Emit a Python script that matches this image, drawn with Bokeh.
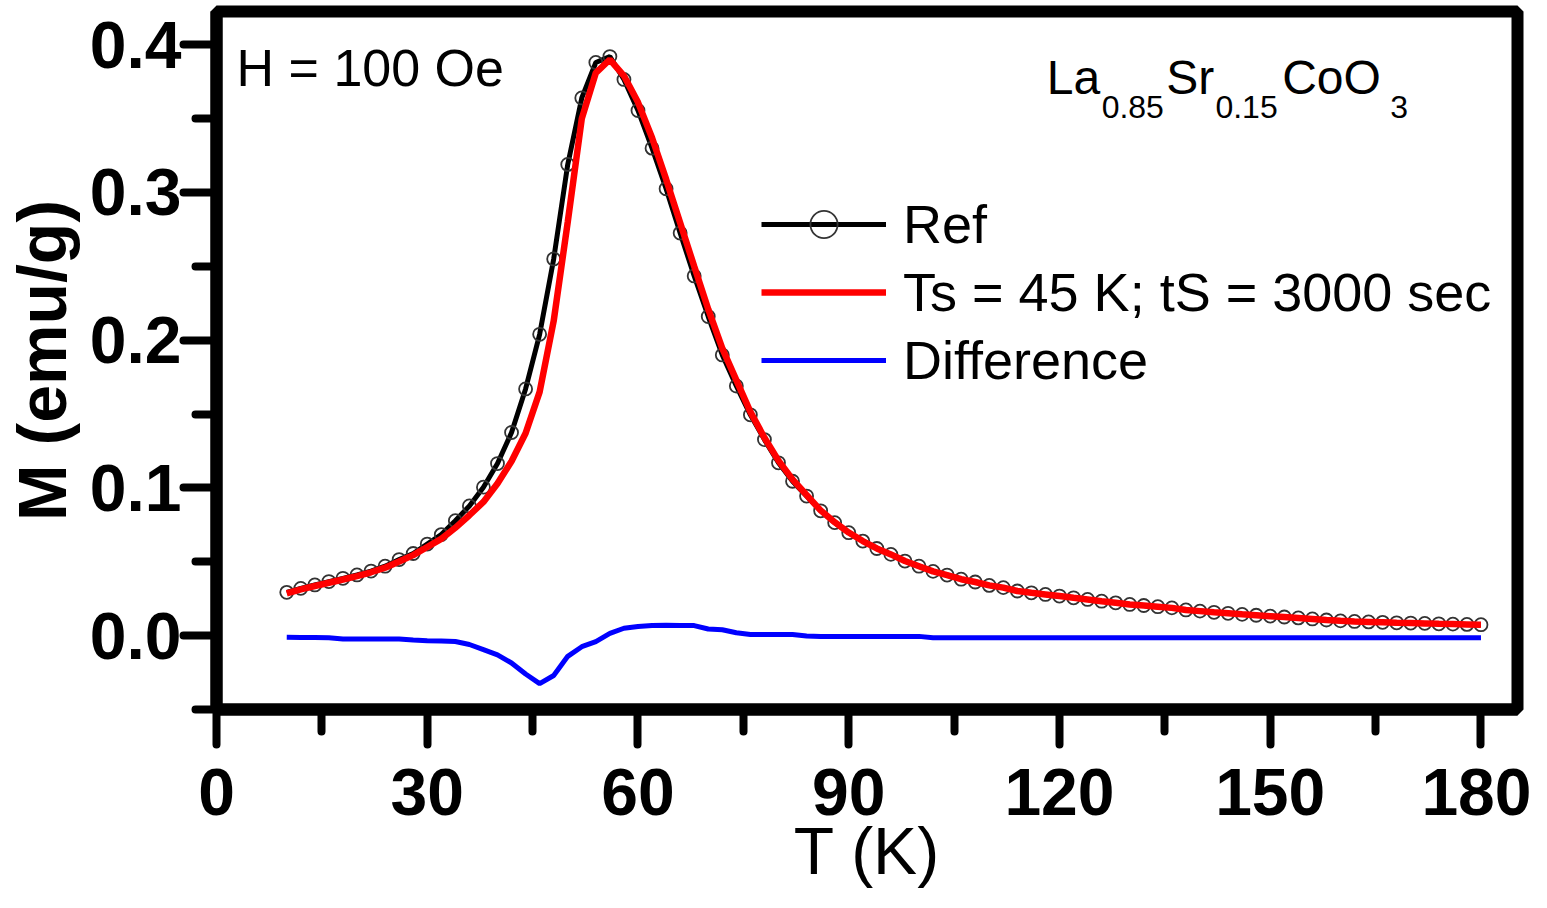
from bokeh.plotting import figure
from bokeh.models import Range1d, Legend, LegendItem, Label, FixedTicker, NumeralTickFormatter
from bokeh.embed import file_html
from bokeh.resources import INLINE

# ---------------- data ----------------
T = [10, 12, 14, 16, 18, 20, 22, 24, 26, 28, 30, 32, 34, 36, 38, 40, 42, 44, 46, 48,
     50, 52, 54, 56, 58, 60, 62, 64, 66, 68, 70, 72, 74, 76, 78, 80, 82, 84, 86, 88,
     90, 92, 94, 96, 98, 100, 102, 104, 106, 108, 110, 112, 114, 116, 118, 120, 122, 124, 126, 128,
     130, 132, 134, 136, 138, 140, 142, 144, 146, 148, 150, 152, 154, 156, 158, 160, 162, 164, 166, 168,
     170, 172, 174, 176, 178, 180]

M_ref = [0.0293, 0.0320, 0.0343, 0.0366, 0.0388, 0.0411, 0.0437, 0.0470, 0.0515, 0.0556,
         0.0620, 0.0684, 0.0778, 0.0878, 0.1005, 0.1165, 0.1375, 0.1670, 0.2040, 0.2550,
         0.3190, 0.3640, 0.3880, 0.3920, 0.3765, 0.3555, 0.3300, 0.3025, 0.2725, 0.2435,
         0.2160, 0.1900, 0.1690, 0.1495, 0.1327, 0.1170, 0.1045, 0.0945, 0.0845, 0.0765,
         0.0697, 0.0640, 0.0590, 0.0550, 0.0505, 0.0470, 0.0435, 0.0410, 0.0382, 0.0363,
         0.0340, 0.0325, 0.0302, 0.0290, 0.0279, 0.0268, 0.0256, 0.0245, 0.0233, 0.0222,
         0.0211, 0.0204, 0.0196, 0.0188, 0.0174, 0.0166, 0.0158, 0.0151, 0.0144, 0.0138,
         0.0132, 0.0126, 0.0120, 0.0113, 0.0106, 0.0100, 0.0096, 0.0093, 0.0090, 0.0087,
         0.0085, 0.0083, 0.0080, 0.0078, 0.0076, 0.0074]

M_fit = [0.0286, 0.0313, 0.0336, 0.0358, 0.0380, 0.0403, 0.0429, 0.0460, 0.0502, 0.0545,
         0.0600, 0.0655, 0.0730, 0.0815, 0.0905, 0.1030, 0.1180, 0.1370, 0.1650, 0.2130,
         0.2800, 0.3500, 0.3810, 0.3900, 0.3790, 0.3610, 0.3370, 0.3090, 0.2795, 0.2500,
         0.2210, 0.1945, 0.1730, 0.1515, 0.1340, 0.1185, 0.1058, 0.0952, 0.0848, 0.0768,
         0.0698, 0.0640, 0.0590, 0.0550, 0.0505, 0.0470, 0.0435, 0.0410, 0.0382, 0.0363,
         0.0340, 0.0325, 0.0302, 0.0290, 0.0279, 0.0268, 0.0256, 0.0245, 0.0233, 0.0222,
         0.0211, 0.0204, 0.0196, 0.0188, 0.0174, 0.0166, 0.0158, 0.0151, 0.0144, 0.0138,
         0.0132, 0.0126, 0.0120, 0.0113, 0.0106, 0.0100, 0.0096, 0.0093, 0.0090, 0.0087,
         0.0085, 0.0083, 0.0080, 0.0078, 0.0076, 0.0074]

M_diff = [-0.0011, -0.0012, -0.0013, -0.0015, -0.0022, -0.0023, -0.0023, -0.0023, -0.0023, -0.0030,
          -0.0034, -0.0036, -0.0040, -0.0060, -0.0095, -0.0130, -0.0185, -0.0260, -0.0325, -0.0270,
          -0.0140, -0.0075, -0.0040, 0.0015, 0.0050, 0.0062, 0.0068, 0.0070, 0.0068, 0.0068,
          0.0045, 0.0040, 0.0020, 0.0008, 0.0007, 0.0007, 0.0007, -0.0003, -0.0005, -0.0005,
          -0.0005, -0.0005, -0.0005, -0.0005, -0.0005, -0.0005, -0.0015, -0.0015, -0.0015, -0.0015,
          -0.0015, -0.0015, -0.0015, -0.0015, -0.0015, -0.0015, -0.0015, -0.0015, -0.0015, -0.0015,
          -0.0015, -0.0015, -0.0015, -0.0015, -0.0015, -0.0015, -0.0015, -0.0015, -0.0015, -0.0015,
          -0.0015, -0.0015, -0.0015, -0.0015, -0.0015, -0.0015, -0.0015, -0.0015, -0.0015, -0.0015,
          -0.0015, -0.0015, -0.0015, -0.0015, -0.0015, -0.0015]

x_major = [0, 30, 60, 90, 120, 150, 180]
x_minor = [15, 45, 75, 105, 135, 165]
y_major = [0.0, 0.1, 0.2, 0.3, 0.4]
y_minor = [-0.05, 0.05, 0.15, 0.25, 0.35]

legend_labels = ["Ref", "Ts = 45 K; tS = 3000 sec", "Difference"]
x_title = "T (K)"
y_title = "M (emu/g)"
field_text = "H = 100 Oe"

FONT = "Liberation Sans"

p = figure(width=1531, height=892,
           x_range=Range1d(0, 185.2), y_range=Range1d(-0.05, 0.4225),
           output_backend="svg", toolbar_location=None,
           min_border_left=215, min_border_right=14,
           min_border_top=11, min_border_bottom=183)

p.grid.visible = False
p.background_fill_color = "white"
p.border_fill_color = "white"
p.outline_line_color = "black"
p.outline_line_width = 12

p.xaxis.ticker = FixedTicker(ticks=x_major, minor_ticks=x_minor)
p.yaxis.ticker = FixedTicker(ticks=y_major, minor_ticks=y_minor)
p.yaxis.formatter = NumeralTickFormatter(format="0.0")

for ax in (p.xaxis[0], p.yaxis[0]):
    ax.axis_line_width = 12
    ax.axis_line_color = "black"
    ax.major_tick_line_width = 8
    ax.minor_tick_line_width = 8
    ax.major_tick_line_cap = "round"
    ax.minor_tick_line_cap = "round"
    ax.major_tick_in = 0
    ax.minor_tick_in = 0
    ax.major_label_text_font = FONT
    ax.major_label_text_font_style = "bold"
    ax.major_label_text_font_size = "66px"
    ax.major_label_text_color = "black"
    ax.axis_label_text_font = FONT
    ax.axis_label_text_color = "black"

p.xaxis.major_tick_out = 35
p.xaxis.minor_tick_out = 22
p.xaxis.major_label_standoff = 24
p.xaxis.axis_label = x_title
p.xaxis.axis_label_text_font_style = "normal"
p.xaxis.axis_label_text_font_size = "66px"
p.xaxis.axis_label_standoff = -4

p.yaxis.major_tick_out = 33
p.yaxis.minor_tick_out = 21
p.yaxis.major_label_standoff = 2
p.yaxis.axis_label = y_title
p.yaxis.axis_label_text_font_style = "bold"
p.yaxis.axis_label_text_font_size = "68px"
p.yaxis.axis_label_standoff = 7

r_ref_line = p.line(T, M_ref, line_color="black", line_width=5)
r_ref_pts = p.scatter(T, M_ref, marker="circle", size=13, fill_color=None,
                      line_color="#333333", line_width=1.8)
r_fit = p.line(T, M_fit, line_color="#ff0000", line_width=6.5)
r_diff = p.line(T, M_diff, line_color="#0000ff", line_width=5)

legend = Legend(items=[
    LegendItem(label=legend_labels[0], renderers=[r_ref_line, r_ref_pts]),
    LegendItem(label=legend_labels[1], renderers=[r_fit]),
    LegendItem(label=legend_labels[2], renderers=[r_diff]),
], location=(545, 315))
legend.label_text_font = FONT
legend.label_text_font_size = "54px"
legend.label_text_color = "black"
legend.glyph_width = 125
legend.glyph_height = 68
legend.label_height = 68
legend.label_standoff = 17
legend.spacing = 0
legend.padding = 0
legend.margin = 0
legend.background_fill_alpha = 0
legend.border_line_alpha = 0
p.add_layout(legend)

p.add_layout(Label(x=2.86, y=0.384, text=field_text, text_font=FONT,
                   text_font_size="52px", text_baseline="alphabetic", text_color="black"))

# chemical formula with subscripts
formula = [("La", 118.2, 0.3777, "48px"), ("0.85", 126.0, 0.358, "32px"),
           ("Sr", 135.2, 0.3777, "48px"), ("0.15", 142.2, 0.358, "32px"),
           ("CoO", 151.7, 0.3777, "48px"), ("3", 167.1, 0.358, "32px")]
for txt, fx, fy, fs in formula:
    p.add_layout(Label(x=fx, y=fy, text=txt, text_font=FONT, text_font_size=fs,
                       text_baseline="alphabetic", text_color="black"))

open("out.html", "w").write(file_html(p, INLINE))
